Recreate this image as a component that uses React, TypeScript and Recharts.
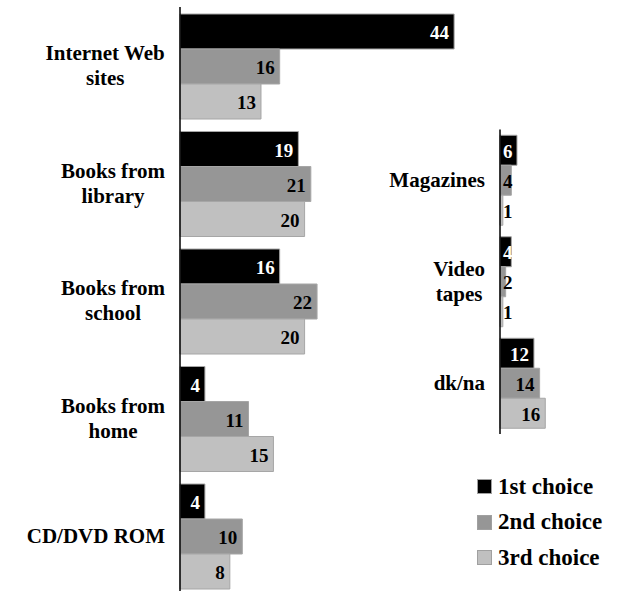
import { BarChart, Bar, XAxis, YAxis, LabelList } from 'recharts'

const leftCategories = ['Internet Web\nsites', 'Books from\nlibrary', 'Books from\nschool', 'Books from\nhome', 'CD/DVD ROM']
const leftFirst = [44, 19, 16, 4, 4]
const leftSecond = [16, 21, 22, 11, 10]
const leftThird = [13, 20, 20, 15, 8]

const rightCategories = ['Magazines', 'Video\ntapes', 'dk/na']
const rightFirst = [6, 4, 12]
const rightSecond = [4, 2, 14]
const rightThird = [1, 1, 16]

const seriesNames = ['1st choice', '2nd choice', '3rd choice']
const seriesColors = ['#000000', '#969696', '#c0c0c0']

const FONT = "'Liberation Serif', 'Times New Roman', serif"

let ctx: CanvasRenderingContext2D | null = null
function measure(text: string, font: string) {
  if (!ctx) ctx = document.createElement('canvas').getContext('2d')
  if (!ctx) return text.length * 9
  ctx.font = font
  return ctx.measureText(text).width
}

function buildRows(cats: string[], a: number[], b: number[], c: number[]) {
  return cats.map((name, i) => ({ name, s1: a[i], s2: b[i], s3: c[i] }))
}

const leftData = buildRows(leftCategories, leftFirst, leftSecond, leftThird)
const rightData = buildRows(rightCategories, rightFirst, rightSecond, rightThird)

function CategoryTick(props: any) {
  const { x, y, payload } = props
  const lines = String(payload.value).split('\n')
  const font = `bold 21px ${FONT}`
  const maxW = Math.max(...lines.map((l) => measure(l, font)))
  const cx = x - 15 - maxW / 2
  const lh = 25
  const y0 = y - ((lines.length - 1) * lh) / 2
  return (
    <g>
      {lines.map((l, i) => (
        <text
          key={i}
          x={cx}
          y={y0 + i * lh}
          textAnchor="middle"
          dominantBaseline="central"
          fontFamily={FONT}
          fontWeight="bold"
          fontSize={21}
          fill="#000"
        >
          {l}
        </text>
      ))}
    </g>
  )
}

function makeValueLabel(color: string) {
  return function ValueLabel(props: any) {
    const { x, y, width, height, value } = props
    const font = `bold 19px ${FONT}`
    const w = measure(String(value), font)
    const tx = Math.max(x + 3, x + width - 5 - w)
    return (
      <text
        x={tx}
        y={y + height / 2 + 1}
        textAnchor="start"
        dominantBaseline="central"
        fontFamily={FONT}
        fontWeight="bold"
        fontSize={19}
        fill={color}
      >
        {value}
      </text>
    )
  }
}

const labelColors = ['#ffffff', '#000000', '#000000']

function LegendBox() {
  return (
    <div style={{ position: 'absolute', left: 477, top: 469 }}>
      {seriesNames.map((n, i) => (
        <div key={n} style={{ display: 'flex', alignItems: 'center', height: 35.5 }}>
          <div
            style={{
              width: 13,
              height: 13,
              background: seriesColors[i],
              border: '1px solid #a0a0a0',
              marginRight: 6,
            }}
          />
          <span style={{ fontFamily: FONT, fontWeight: 'bold', fontSize: 23, color: '#000' }}>{n}</span>
        </div>
      ))}
    </div>
  )
}

function renderBars(keys: string[]) {
  return keys.map((k, i) => (
    <Bar
      key={k}
      dataKey={k}
      name={seriesNames[i]}
      fill={seriesColors[i]}
      stroke="#a6a6a6"
      strokeWidth={1}
      isAnimationActive={false}
    >
      <LabelList dataKey={k} content={makeValueLabel(labelColors[i])} />
    </Bar>
  ))
}

export default function App() {
  const keys = ['s1', 's2', 's3']
  return (
    <div
      style={{
        position: 'absolute',
        left: 0,
        top: 0,
        width: 626,
        height: 591,
        overflow: 'hidden',
        background: '#fff',
      }}
    >
      <div style={{ position: 'absolute', left: 0, top: 0 }}>
        <BarChart
          width={626}
          height={600}
          data={leftData}
          layout="vertical"
          margin={{ top: 7, right: 134.5, bottom: 5.5, left: 0 }}
          barCategoryGap={7}
          barGap={0}
        >
          <XAxis type="number" domain={[0, 50]} hide />
          <YAxis
            type="category"
            dataKey="name"
            width={180}
            axisLine={{ stroke: '#000', strokeWidth: 1.5 }}
            tickLine={false}
            tickSize={0}
            tickMargin={0}
            interval={0}
            tick={<CategoryTick />}
          />
          {renderBars(keys)}
        </BarChart>
      </div>
      <div style={{ position: 'absolute', left: 380, top: 120 }}>
        <BarChart
          width={246}
          height={320}
          data={rightData}
          layout="vertical"
          margin={{ top: 9.5, right: 12.8, bottom: 6, left: 0 }}
          barCategoryGap={5.75}
          barGap={0}
        >
          <XAxis type="number" domain={[0, 40]} hide />
          <YAxis
            type="category"
            dataKey="name"
            width={120}
            axisLine={{ stroke: '#000', strokeWidth: 1.5 }}
            tickLine={false}
            tickSize={0}
            tickMargin={0}
            interval={0}
            tick={<CategoryTick />}
          />
          {renderBars(keys)}
        </BarChart>
      </div>
      <LegendBox />
    </div>
  )
}
